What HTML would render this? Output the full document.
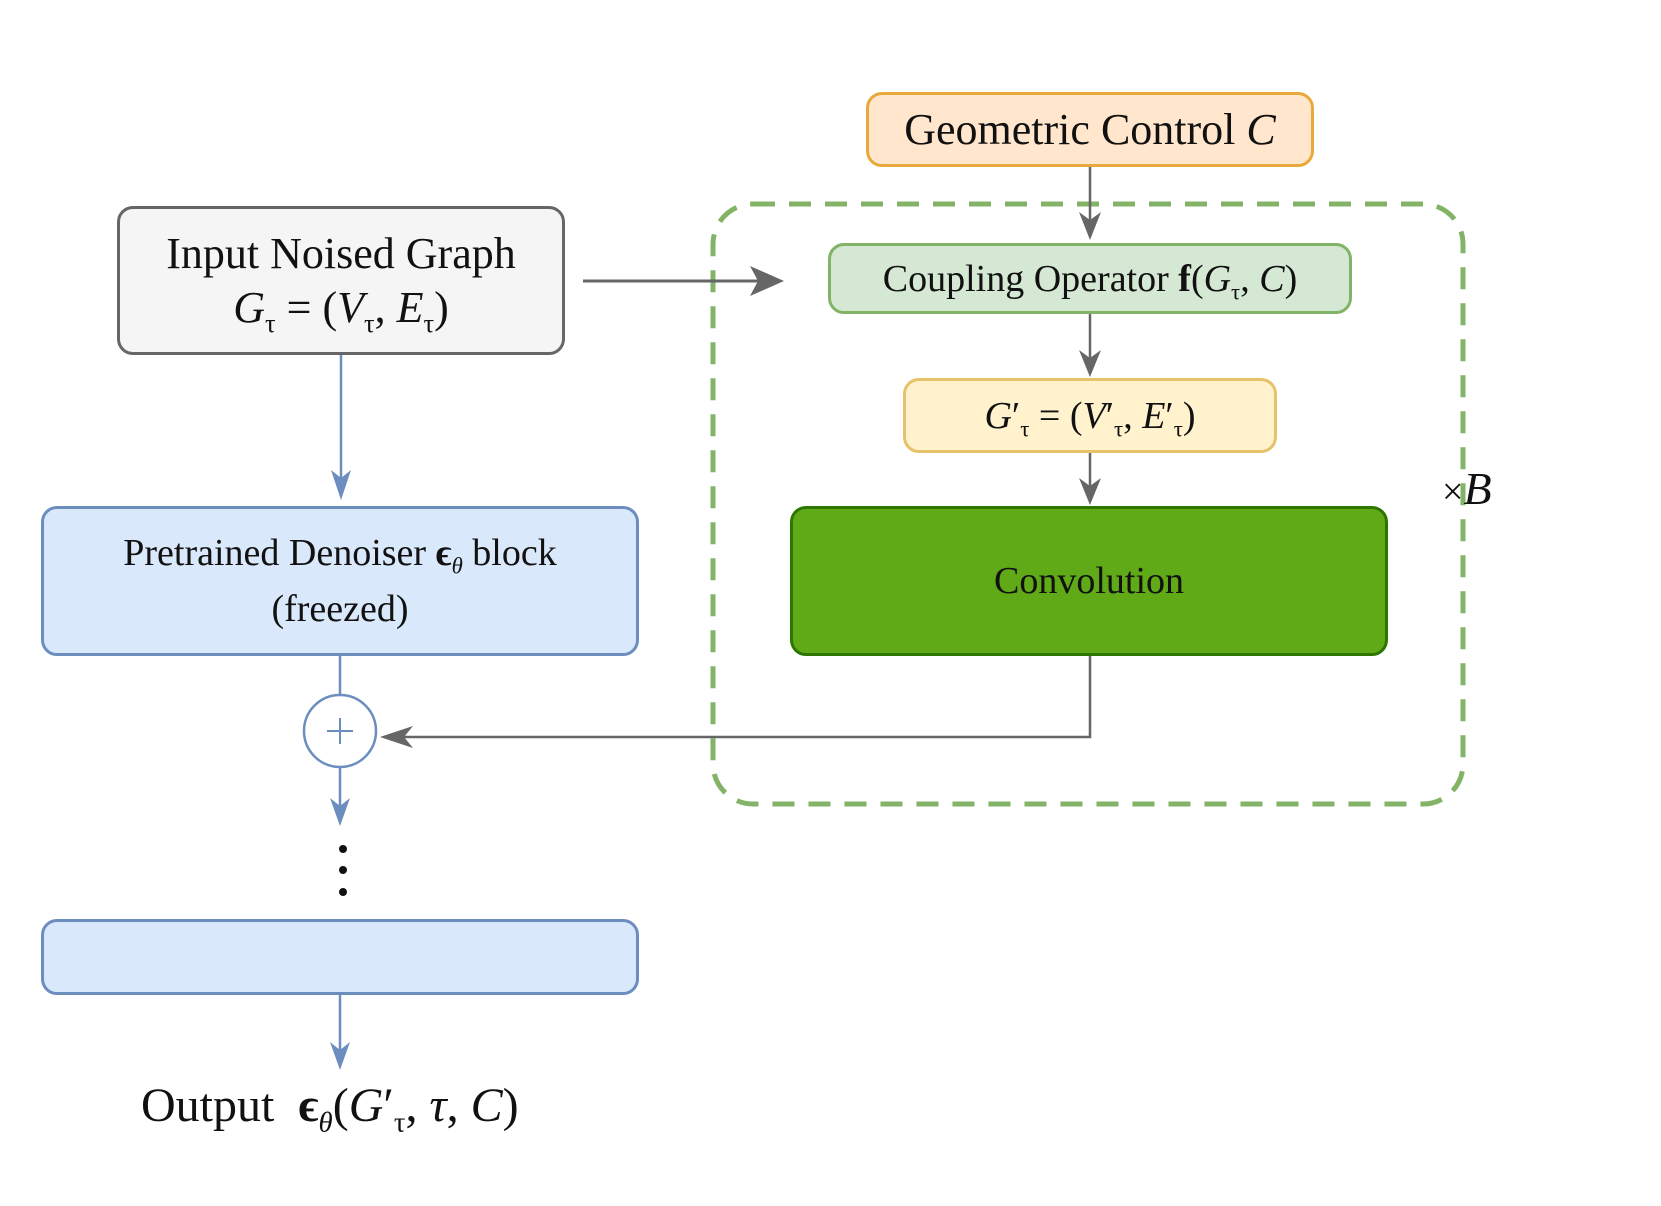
<!DOCTYPE html>
<html><head><meta charset="utf-8"><style>
html,body{margin:0;padding:0;background:#fff;}
body{width:1661px;height:1206px;position:relative;overflow:hidden;font-family:"Liberation Serif",serif;color:#111;}
.b{position:absolute;box-sizing:border-box;border-radius:16px;display:flex;align-items:center;justify-content:center;text-align:center;}
.b>div{white-space:nowrap;}
i{font-style:italic;font-family:"Liberation Serif",serif;}
sub{font-size:0.6em;line-height:0;}
</style></head><body>
<svg width="1661" height="1206" style="position:absolute;left:0;top:0">
<rect x="713" y="204" width="750" height="600" rx="40" fill="none" stroke="#82b366" stroke-width="5" stroke-dasharray="22,14"/>
<line x1="1090" y1="167" x2="1090" y2="236" stroke="#666" stroke-width="2.5"/>
<path d="M1079,212 L1090,240 L1101,212 L1090,220z" fill="#666"/>
<line x1="583" y1="281" x2="776" y2="281" stroke="#666" stroke-width="3"/>
<path d="M750,266 L784,281 L750,296 L758,281z" fill="#666"/>
<line x1="1090" y1="314" x2="1090" y2="372" stroke="#666" stroke-width="2.5"/>
<path d="M1079,350 L1090,377 L1101,350 L1090,358z" fill="#666"/>
<line x1="1090" y1="453" x2="1090" y2="500" stroke="#666" stroke-width="2.5"/>
<path d="M1079,478 L1090,505 L1101,478 L1090,486z" fill="#666"/>
<polyline points="1090,656 1090,737 385,737" fill="none" stroke="#666" stroke-width="2.5"/>
<path d="M413,726 L380,737 L413,748 L404,737z" fill="#666"/>
<g stroke="#6c8ebf" stroke-width="2.5" fill="#6c8ebf">
<line x1="341" y1="355" x2="341" y2="495"/>
<path d="M331,470 L341,500 L351,470 L341,478z" stroke="none"/>
<line x1="340" y1="656" x2="340" y2="695"/>
<line x1="340" y1="767" x2="340" y2="820"/>
<path d="M330,798 L340,826 L350,798 L340,806z" stroke="none"/>
<line x1="340" y1="995" x2="340" y2="1065"/>
<path d="M330,1042 L340,1070 L350,1042 L340,1050z" stroke="none"/>
</g>
<circle cx="340" cy="731" r="36" fill="#fff" stroke="#6c8ebf" stroke-width="2.5"/>
<line x1="327" y1="731" x2="353" y2="731" stroke="#6c8ebf" stroke-width="2"/>
<line x1="340" y1="718" x2="340" y2="744" stroke="#6c8ebf" stroke-width="2"/>
<circle cx="343" cy="849" r="4" fill="#111"/>
<circle cx="343" cy="870" r="4" fill="#111"/>
<circle cx="343" cy="892" r="4" fill="#111"/>
<g stroke="#7cc4f5" stroke-width="3">
<line x1="73" y1="930" x2="73" y2="966"/><line x1="56" y1="948" x2="90" y2="948"/>
<line x1="61" y1="936" x2="85" y2="960"/><line x1="85" y1="936" x2="61" y2="960"/>
</g>
</svg>
<div class="b" style="left:866px;top:92px;width:448px;height:75px;background:#ffe6cc;border:3px solid #e8a93a;font-size:44px;"><div>Geometric Control <i>C</i></div></div>
<div class="b" style="left:117px;top:206px;width:448px;height:149px;background:#f5f5f5;border:3px solid #666;font-size:44px;line-height:54px;"><div>Input Noised Graph<br><i>G</i><sub>τ</sub> = (<i>V</i><sub>τ</sub>, <i>E</i><sub>τ</sub>)</div></div>
<div class="b" style="left:828px;top:243px;width:524px;height:71px;background:#d5e8d4;border:3px solid #82b366;font-size:38px;"><div>Coupling Operator <b>f</b>(<i>G</i><sub>τ</sub>, <i>C</i>)</div></div>
<div class="b" style="left:903px;top:378px;width:374px;height:75px;background:#fff2cc;border:3px solid #e6c36a;font-size:38px;"><div><i>G</i>′<sub>τ</sub> = (<i>V</i>′<sub>τ</sub>, <i>E</i>′<sub>τ</sub>)</div></div>
<div class="b" style="left:790px;top:506px;width:598px;height:150px;background:#60a917;border:3px solid #2d7600;font-size:38px;"><div>Convolution</div></div>
<div class="b" style="left:41px;top:506px;width:598px;height:150px;background:#dae8fc;border:3px solid #6c8ebf;font-size:38px;line-height:56px;"><div>Pretrained Denoiser <b>ϵ</b><sub><i>θ</i></sub> block<br>(freezed)</div></div>
<div class="b" style="left:41px;top:919px;width:598px;height:76px;background:#dae8fc;border:3px solid #6c8ebf;"></div>
<div style="position:absolute;left:1442px;top:462px;font-size:46px;"><span style="font-size:38px">×</span><i>B</i></div>
<div style="position:absolute;left:141px;top:1078px;font-size:48px;white-space:nowrap;">Output&nbsp; <b>ϵ</b><sub><i>θ</i></sub>(<i>G</i>′<sub>τ</sub>, <i>τ</i>, <i>C</i>)</div>
</body></html>
